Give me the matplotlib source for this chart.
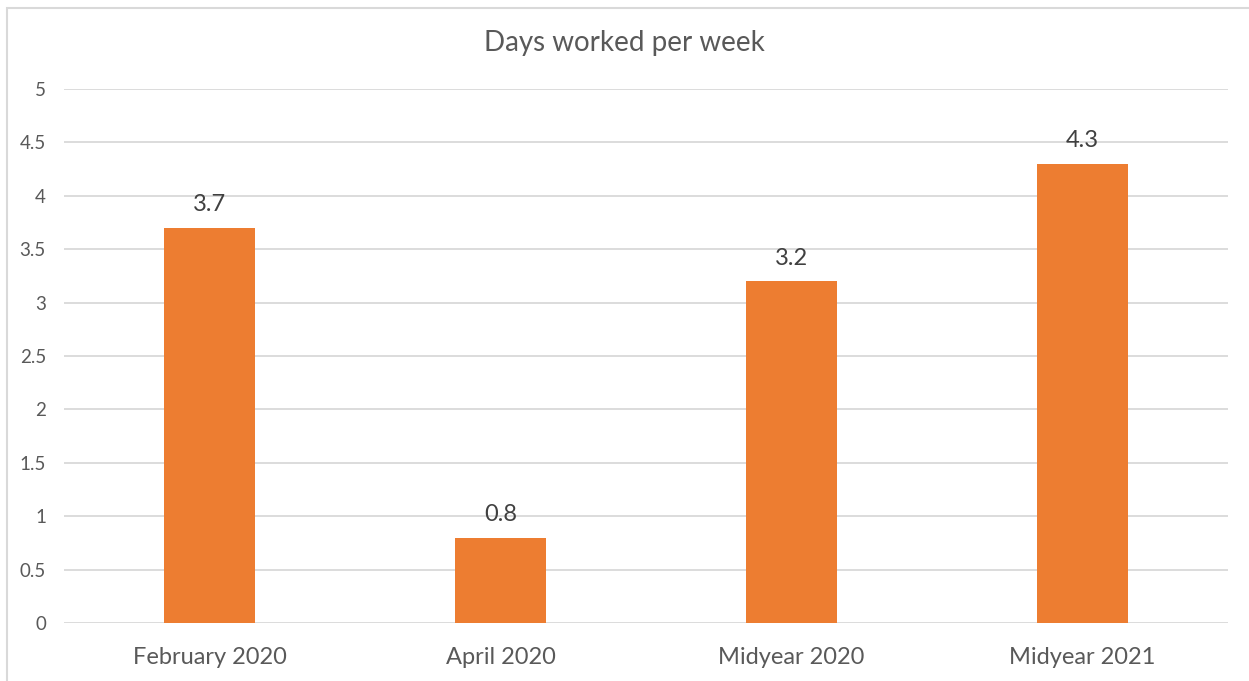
import matplotlib.pyplot as plt
from matplotlib.patches import Rectangle

categories = ["February 2020", "April 2020", "Midyear 2020", "Midyear 2021"]
days = [3.7, 0.8, 3.2, 4.3]
yticks = [0, 0.5, 1, 1.5, 2, 2.5, 3, 3.5, 4, 4.5, 5]
ytick_labels = ["0", "0.5", "1", "1.5", "2", "2.5", "3", "3.5", "4", "4.5", "5"]

plt.rcParams['font.family'] = ['Lato', 'DejaVu Sans']

fig = plt.figure(figsize=(12.49, 6.81), dpi=100)
ax = fig.add_axes([64 / 1249, 1 - 623 / 681, (1228 - 64) / 1249, (623 - 89) / 681])

x = range(len(categories))
bars = ax.bar(x, days, width=0.312, color='#ED7D31', zorder=3)
for b, v in zip(bars, days):
    ax.annotate(f"{v}", (b.get_x() + b.get_width() / 2, v), xytext=(0, 9),
                textcoords='offset points', ha='center', va='bottom',
                fontsize=17, color='#404040')

ax.set_xlim(-0.5, len(categories) - 0.5)
ax.set_ylim(0, 5)
ax.set_yticks(yticks)
ax.set_yticklabels(ytick_labels)
ax.set_xticks(list(x))
ax.set_xticklabels(categories)
ax.tick_params(axis='y', length=0, pad=13, labelsize=13.5, labelcolor='#595959')
ax.tick_params(axis='x', length=0, pad=17, labelsize=17, labelcolor='#595959')
ax.grid(axis='y', color='#D9D9D9', linewidth=1.3, zorder=0)
for s in ax.spines.values():
    s.set_visible(False)

fig.text(0.5, 1 - 43 / 681, "Days worked per week", ha='center', va='center',
         fontsize=20, color='#595959')

# chart frame
fig.patches.append(Rectangle((7 / 1249, -0.1), 1.2, 1 - 8 / 681 + 0.1,
                             transform=fig.transFigure, fill=False,
                             edgecolor='#D9D9D9', linewidth=1.5))

fig.savefig('out.png', dpi=100)
